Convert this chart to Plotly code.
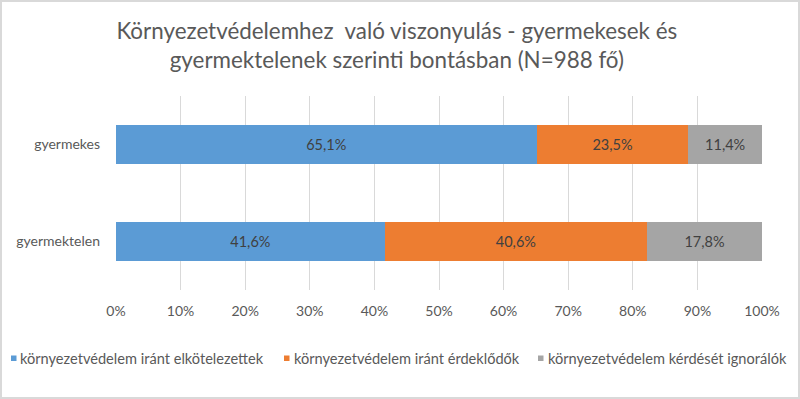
import plotly.graph_objects as go

categories = ["gyermektelen", "gyermekes"]
series_names = [
    "környezetvédelem iránt elkötelezettek",
    "környezetvédelem iránt érdeklődők",
    "környezetvédelem kérdését ignorálók",
]
committed = [41.6, 65.1]
interested = [40.6, 23.5]
ignoring = [17.8, 11.4]
colors = ["#5B9BD5", "#ED7D31", "#A5A5A5"]
tick_vals = [0, 10, 20, 30, 40, 50, 60, 70, 80, 90, 100]
tick_text = [f"{v}%" for v in tick_vals]

FONT = "Lato, 'Open Sans', sans-serif"

fig = go.Figure()
for name, vals, col in zip(series_names, [committed, interested, ignoring], colors):
    fig.add_trace(go.Bar(
        y=categories, x=vals, name=name, orientation="h",
        marker=dict(color=col, line=dict(width=0)),
        text=[f"{v:.1f}%".replace(".", ",") for v in vals],
        textposition="inside", insidetextanchor="middle",
        textfont=dict(color="#404040", size=14.5, family=FONT),
        hoverinfo="skip", showlegend=False,
    ))

W, H = 800, 399
L, R, T, B = 116, 38, 96, 109
pw, ph = W - L - R, H - T - B
bottom_px = H - B


def px_x(p):
    return (p - L) / pw


def px_y(p):
    return (bottom_px - p) / ph


# legend built as annotations + small square swatches (pixel layout)
leg_text_x = [18, 292, 546]
leg_sq_x = [11, 284, 538]
leg_y = 358
annotations = []
shapes = [dict(
    type="rect", xref="paper", yref="paper",
    x0=px_x(1), x1=px_x(W - 1), y0=px_y(H - 1), y1=px_y(1),
    line=dict(color="#D9D9D9", width=2), fillcolor="rgba(0,0,0,0)",
    layer="below",
)]
for name, col, tx, sx in zip(series_names, colors, leg_text_x, leg_sq_x):
    annotations.append(dict(
        text=name, xref="paper", yref="paper", x=px_x(tx), y=px_y(leg_y),
        xanchor="left", yanchor="middle", showarrow=False,
        font=dict(size=14.6, color="#595959", family=FONT),
    ))
    shapes.append(dict(
        type="rect", xref="paper", yref="paper",
        x0=px_x(sx), x1=px_x(sx + 5.5), y0=px_y(leg_y + 3), y1=px_y(leg_y - 2.5),
        line=dict(width=0), fillcolor=col,
    ))

fig.update_layout(
    width=W, height=H,
    barmode="stack", bargap=0.6,
    margin=dict(l=L, r=R, t=T, b=B, pad=0),
    paper_bgcolor="white", plot_bgcolor="white",
    font=dict(family=FONT, color="#595959", size=14),
    title=dict(
        text="Környezetvédelemhez  való viszonyulás - gyermekesek és<br>gyermektelenek szerinti bontásban (N=988 fő)",
        x=0.496, xanchor="center", y=1 - 39 / H, yanchor="middle",
        font=dict(size=22.4, color="#595959", family=FONT),
    ),
    xaxis=dict(
        range=[0, 100], tickvals=tick_vals, ticktext=tick_text,
        showgrid=True, gridcolor="#D9D9D9", gridwidth=1,
        zeroline=False, showline=False, ticks="",
        ticklabelstandoff=11,
        tickfont=dict(size=14, color="#595959"),
        fixedrange=True,
    ),
    yaxis=dict(
        showgrid=False, zeroline=False, showline=False, ticks="",
        ticklabelstandoff=15,
        tickfont=dict(size=14, color="#595959"),
        fixedrange=True,
    ),
    showlegend=False,
    annotations=annotations,
    shapes=shapes,
)

fig.write_html(
    "out.html",
    config={"displayModeBar": False},
    post_script="document.body.style.margin='0';document.body.style.overflow='hidden';",
)
